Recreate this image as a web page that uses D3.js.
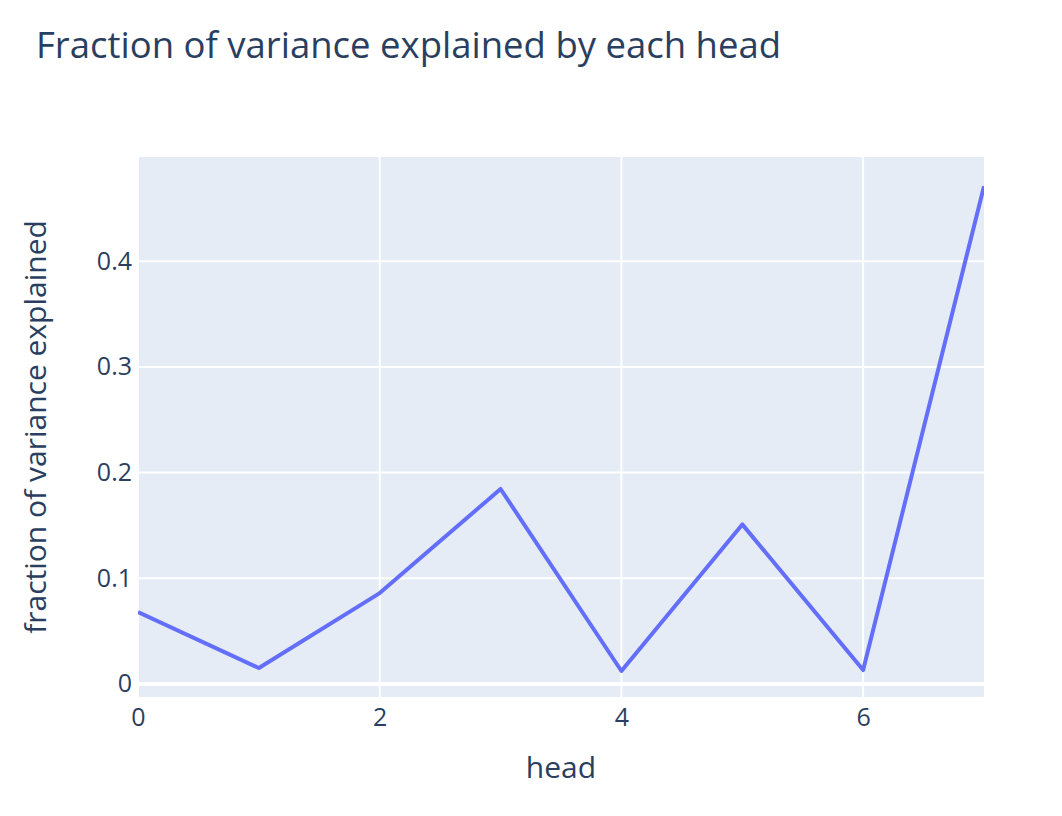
<!DOCTYPE html>
<html><head><meta charset="utf-8">
<script src="https://cdn.jsdelivr.net/npm/d3@7"></script>
<style>body{margin:0;background:#fff}svg{display:block}</style>
</head><body>
<svg id="c" width="1062" height="816"></svg>
<script>
const heads = [0,1,2,3,4,5,6,7];
const fractions = [0.068,0.0151,0.086,0.1845,0.0123,0.151,0.0132,0.471];
const xTicks = [0,2,4,6];
const yTicks = [0,0.1,0.2,0.3,0.4];
const yTickLabels = ["0","0.1","0.2","0.3","0.4"];
const titleText = "Fraction of variance explained by each head";
const xTitle = "head";
const yTitle = "fraction of variance explained";

const W=1062,H=816;
const m={l:138,r:78,t:157,b:119};
const pw=W-m.l-m.r, ph=H-m.t-m.b;
const svg=d3.select("#c");
const font="'Open Sans', 'Noto Sans', sans-serif";
const txt="#2a3f5f";

const x=d3.scaleLinear().domain([0,7]).range([0,pw]);
const y=d3.scaleLinear().domain([-0.0123,0.4986]).range([ph,0]);

const g=svg.append("g").attr("transform",`translate(${m.l},${m.t})`);
g.append("rect").attr("width",pw).attr("height",ph).attr("fill","#e5ecf6");

g.selectAll(".xg").data(xTicks).enter().append("line")
 .attr("x1",d=>x(d)).attr("x2",d=>x(d)).attr("y1",0).attr("y2",ph)
 .attr("stroke","#fff").attr("stroke-width",2);
g.selectAll(".yg").data(yTicks.filter(d=>d!==0)).enter().append("line")
 .attr("x1",0).attr("x2",pw).attr("y1",d=>y(d)).attr("y2",d=>y(d))
 .attr("stroke","#fff").attr("stroke-width",2);
g.append("line").attr("x1",0).attr("x2",pw).attr("y1",y(0)).attr("y2",y(0))
 .attr("stroke","#fff").attr("stroke-width",4);

svg.append("clipPath").attr("id","clip").append("rect").attr("width",pw).attr("height",ph);
g.append("path").datum(heads.map((h,i)=>[h,fractions[i]]))
 .attr("clip-path","url(#clip)")
 .attr("d",d3.line().x(d=>x(d[0])).y(d=>y(d[1])))
 .attr("fill","none").attr("stroke","#636efa").attr("stroke-width",4).attr("stroke-linejoin","round");

// axes
const xa=d3.axisBottom(x).tickValues(xTicks).tickSize(0).tickPadding(11).tickFormat(d3.format("d"));
const xg=g.append("g").attr("transform",`translate(0,${ph})`).call(xa);
const ya=d3.axisLeft(y).tickValues(yTicks).tickSize(0).tickPadding(6).tickFormat((d,i)=>yTickLabels[i]);
const yg=g.append("g").call(ya);
[xg,yg].forEach(a=>{a.select(".domain").remove();
 a.selectAll("text").attr("fill",txt).style("font-family",font).style("font-size","25px");});

svg.append("text").attr("x",36).attr("y",58).text(titleText)
 .attr("fill",txt).style("font-family",font).style("font-size","36.5px");
svg.append("text").attr("x",m.l+pw/2).attr("y",778).attr("text-anchor","middle").text(xTitle)
 .attr("fill",txt).style("font-family",font).style("font-size","30px");
svg.append("text").attr("transform",`translate(46,${m.t+ph/2}) rotate(-90)`).attr("text-anchor","middle").text(yTitle)
 .attr("fill",txt).style("font-family",font).style("font-size","30px");
</script>
</body></html>
